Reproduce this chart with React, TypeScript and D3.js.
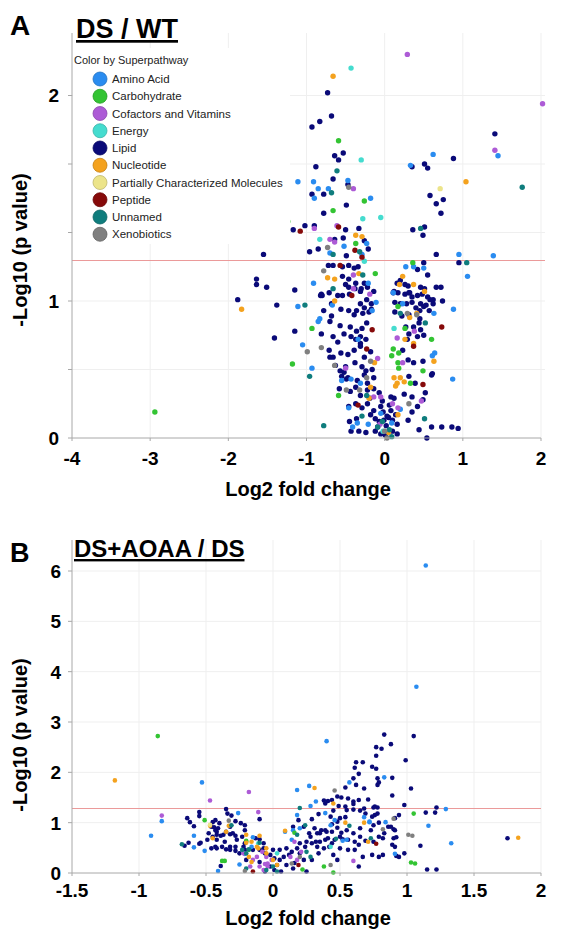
import * as d3 from 'd3';

type Pt = [number, number];

// superpathway categories and their colours
const CATEGORIES = ['Amino Acid', 'Carbohydrate', 'Cofactors and Vitamins', 'Energy', 'Lipid', 'Nucleotide', 'Partially Characterized Molecules', 'Peptide', 'Unnamed', 'Xenobiotics'];
const CATEGORY_COLORS = ['#2a8cf0', '#33c433', '#ad5bd6', '#45dccf', '#0a0a78', '#f4a21e', '#ece48a', '#860a0a', '#0f7d7d', '#808080'];
// lipid first, others drawn over it
const DRAW_ORDER = [4, 0, 1, 2, 3, 5, 6, 7, 8, 9];

// ---------- panel A : DS / WT  (log2 FC, -log10 p) ----------
const A_AMINO: Pt[] = [[1.45,2.06],[0.62,2.07],[0.33,1.99],[-1.11,1.87],[-0.91,1.87],[-0.47,1.88],[-0.85,1.82],[-0.90,1.75],[-0.72,1.82],[-0.18,1.75],[-0.70,1.35],[-0.52,1.40],[-0.29,1.34],[-0.23,1.42],[0.95,1.34],[1.39,1.33],[-1.11,0.96],[-1.05,0.68],[-0.93,0.51],[1.06,1.18],[0.88,0.94],[0.87,0.43],[-0.21,1.13],[-0.91,1.13],[0.27,1.25],[0.37,1.25],[0.50,1.24],[-0.11,0.99],[0.23,0.98],[-0.67,0.97],[-0.16,0.93],[-0.83,0.87],[-0.85,0.85],[-0.34,0.72],[-0.55,0.42],[-0.43,0.43],[-0.31,0.40],[-0.46,0.22],[-0.35,0.11],[-0.21,0.10],[-0.41,0.08],[0.11,1.06],[0.63,0.91],[0.61,0.60],[0.64,0.62],[-0.05,0.18],[0.20,0.21],[0.09,0.11]];
const A_CARB: Pt[] = [[-0.59,2.17],[-0.26,1.73],[-0.66,1.66],[-1.24,1.58],[-0.37,1.42],[0.36,1.28],[-0.12,1.20],[-1.18,0.54],[-2.94,0.19],[-0.93,0.80],[0.17,0.96],[0.26,0.80],[0.60,0.72],[0.11,0.65],[0.18,0.62],[0.17,0.55],[0.18,0.51],[0.49,0.49],[0.33,0.40],[-0.59,0.31],[0.09,0.60]];
const A_COFACTOR: Pt[] = [[0.29,2.80],[2.02,2.44],[1.41,2.10],[-0.40,1.82],[-0.90,1.53],[-0.61,1.55],[-0.70,1.45],[-0.64,1.43],[-0.40,1.19],[-0.40,1.09],[-0.19,1.05],[0.16,0.73],[0.38,0.78],[0.23,0.55],[-0.09,0.58],[-0.50,0.51],[-0.14,0.30],[-0.05,0.30],[0.47,0.27],[0.17,0.22],[0.10,0.25],[-0.06,0.10]];
const A_ENERGY: Pt[] = [[-0.43,2.70],[-0.30,2.03],[-0.28,1.60],[-0.05,1.61],[-0.83,1.45],[-0.26,1.29],[0.12,0.80],[-0.02,0.05]];
const A_LIPID: Pt[] = [
  [-0.73,2.52],[-0.68,2.35],[-0.83,2.31],[-0.93,2.27],[1.41,2.22],[-0.64,2.06],[-0.53,2.08],[-0.59,2.03],[0.88,2.04],[-0.88,1.98],
  [0.35,1.98],[0.51,2.00],[0.55,1.97],[-0.66,1.89],[-0.47,1.85],[-0.93,1.78],[-0.78,1.78],[0.58,1.77],[0.75,1.74],[0.66,1.71],
  [0.72,1.64],[-0.49,1.70],[-0.78,1.64],[-1.17,1.52],[-1.02,1.55],[-0.90,1.55],[-0.50,1.52],[-0.33,1.53],[0.36,1.52],[0.51,1.54],
  [0.49,1.48],[-0.64,1.45],[-0.53,1.46],[-0.96,1.36],[-0.85,1.38],[-0.49,1.33],[-0.26,1.44],[-0.21,1.38],[-1.55,1.34],[0.66,1.34],
  [0.95,1.28],[0.50,1.28],
  [-0.72,1.26],[-0.66,1.26],[-0.46,1.26],[-0.54,1.25],[-0.39,1.24],[-0.34,1.25],[-0.54,1.18],[-0.46,1.16],[-0.37,1.13],[-0.26,1.13],
  [-0.50,1.12],[-0.30,1.09],[-0.81,1.05],[-1.64,1.16],[-1.64,1.12],[-1.51,1.10],[-1.88,1.01],[-1.38,0.97],[-1.15,1.08],[-1.41,0.73],
  [-1.15,0.78],[-0.80,1.04],[-0.54,1.04],[-0.45,1.05],[-0.23,1.01],[-0.17,0.94],[-0.68,0.98],[-0.36,0.93],[-0.28,0.91],
  [0.42,1.23],[0.55,1.19],[0.20,1.15],[0.16,1.13],[0.26,1.12],[0.30,1.11],[0.46,1.10],[0.51,1.09],[0.11,1.06],[0.31,1.06],
  [0.26,1.05],[0.32,1.06],[0.42,1.04],[0.48,1.05],[0.55,1.03],[0.28,0.98],[0.35,0.99],[0.46,0.98],[0.53,0.97],[0.22,0.89],
  [0.45,0.87],[0.44,0.84],[0.72,1.10],[0.74,1.00],[0.66,1.10],[0.62,1.01],[0.73,0.08],[0.86,0.08],[0.60,0.08],[0.94,0.07],
  [0.54,0.00],[0.12,1.07],[0.17,1.06],[0.35,1.03],[0.58,1.01],[0.62,0.98],[0.13,0.99],[0.20,0.98],[0.13,0.92],[0.31,0.90],
  [0.40,0.95],[0.45,0.93],[0.50,0.96],[0.57,0.93],[0.27,0.81],[0.37,0.81],[0.46,0.79],[0.31,0.76],[0.29,0.72],[0.42,0.74],
  [0.50,0.75],[0.23,0.64],[0.30,0.57],[0.37,0.55],[0.49,0.56],[0.31,0.45],[0.39,0.40],[0.60,0.46],[0.61,0.47],[0.25,0.32],
  [0.35,0.30],[0.42,0.23],[0.30,0.13],[0.44,0.06],[0.35,0.19],[0.49,0.28],[0.52,0.33],
  [-0.82,1.04],[-0.71,1.06],[-0.60,1.04],[-0.46,1.10],[-0.38,1.09],[-0.31,1.07],[-0.22,1.10],[-0.14,1.07],
  [-0.78,0.93],[-0.68,0.89],[-0.56,0.94],[-0.46,0.93],[-0.39,0.90],[-0.31,0.98],[-0.26,0.95],[-0.20,0.92],[-0.17,0.98],
  [-0.70,0.85],[-0.57,0.82],[-0.44,0.81],[-0.36,0.78],[-0.29,0.80],[-0.23,0.84],
  [-0.81,0.76],[-0.66,0.74],[-0.52,0.76],[-0.43,0.74],[-0.37,0.72],[-0.31,0.74],[-0.24,0.72],[-0.31,0.69],
  [-0.70,0.59],[-0.60,0.70],[-0.71,0.64],[-0.66,0.59],[-0.56,0.62],[-0.47,0.61],[-0.39,0.64],[-0.31,0.67],[-0.26,0.59],[-0.18,0.63],
  [-0.63,0.53],[-0.50,0.52],[-0.38,0.55],[-0.29,0.52],[-0.24,0.49],[-0.16,0.50],[-0.57,0.49],[-0.52,0.48],[-0.49,0.43],
  [-0.55,0.45],[-0.47,0.44],[-0.35,0.42],[-0.26,0.46],[-0.22,0.40],[-0.14,0.44],
  [-0.58,0.36],[-0.44,0.34],[-0.37,0.37],[-0.31,0.31],[-0.22,0.35],[-0.14,0.36],[-0.07,0.33],
  [-0.46,0.23],[-0.37,0.25],[-0.29,0.22],[-0.22,0.25],[-0.14,0.20],[-0.05,0.23],
  [-0.36,0.14],[-0.18,0.17],[-0.12,0.14],[-0.07,0.12],[-0.01,0.13],[0.03,0.16],[-0.45,0.12],[-0.43,0.05],
  [-0.33,0.05],[-0.24,0.04],[-0.12,0.05],[-0.05,0.03],[0.01,0.02],[0.10,0.05],[0.16,0.03],
  [0.08,0.20],[0.14,0.17],[0.10,0.13],[0.16,0.10],[0.12,0.29],[0.08,0.30],
  [-0.03,0.27],[0.02,0.09],[-0.09,0.08],[0.06,0.24],[-0.19,0.29],[0.05,0.15],[-0.02,0.19]
];
const A_NUCLEO: Pt[] = [[-0.66,2.64],[1.04,1.87],[-0.37,1.48],[-0.29,1.47],[-0.33,1.20],[-0.73,1.17],[-0.64,1.16],[0.23,1.18],[0.19,1.12],[0.37,1.12],[0.51,1.07],[-1.83,0.94],[-0.64,1.00],[0.32,0.88],[0.41,0.91],[0.26,0.72],[0.37,0.69],[0.63,0.56],[0.12,0.44],[0.16,0.40],[0.20,0.44],[0.25,0.41],[0.14,0.38],[-0.13,0.55],[-0.18,0.37],[-0.20,0.29],[0.17,0.17],[0.05,0.04]];
const A_PARTIAL: Pt[] = [[0.71,1.82]];
const A_PEPTIDE: Pt[] = [[-1.08,1.51],[-0.59,1.54],[-0.38,1.37],[-0.29,1.32],[-0.57,1.26],[-0.42,1.04],[0.73,0.81],[-0.16,0.79],[-0.23,0.65],[0.37,0.67],[0.49,0.39],[-0.34,0.24]];
const A_UNNAMED: Pt[] = [[1.76,1.83],[-0.61,1.95],[-0.68,1.79],[0.46,1.53],[-0.66,1.34],[-0.32,1.36],[1.05,1.28],[-0.28,1.19],[-0.66,1.09],[-1.02,0.97],[-0.96,0.45],[-0.78,0.09],[0.20,0.91],[0.52,0.84],[0.51,0.14],[-0.23,0.31],[-0.29,0.16],[-0.09,0.08],[-0.03,0.12],[0.06,0.06],[0.09,0.01]];
const A_XENO: Pt[] = [[-0.46,1.83],[-0.73,1.39],[-0.78,1.22],[-0.99,0.63],[-0.81,0.66],[-0.64,0.53],[0.29,0.91],[0.41,0.90],[-0.18,0.56],[-0.23,0.44],[-0.49,0.35],[-0.32,0.35],[0.31,0.25],[0.00,0.05],[0.03,0.00]];
const A_SERIES = [A_AMINO, A_CARB, A_COFACTOR, A_ENERGY, A_LIPID, A_NUCLEO, A_PARTIAL, A_PEPTIDE, A_UNNAMED, A_XENO];

// ---------- panel B : DS+AOAA / DS ----------
const B_AMINO: Pt[] = [[1.14,6.11],[1.07,3.70],[0.40,2.62],[0.83,1.90],[-0.53,1.80],[0.18,1.65],[0.27,1.73],[0.57,1.80],[0.32,1.42],[0.28,1.33],[0.18,1.15],[0.68,1.11],[0.72,1.02],[1.16,0.94],[1.29,1.27],[1.33,0.59],[-0.83,1.03],[-0.91,0.74],[-0.26,1.19],[-0.59,0.74],[-0.59,0.51],[-0.51,0.44],[-0.21,0.38],[-0.25,0.17],[-0.16,0.52],[-0.15,0.71],[-0.41,0.04],[0.09,0.82],[0.15,0.85],[0.20,0.89],[0.14,0.66],[0.43,0.95],[0.46,1.05],[0.52,0.64],[0.55,0.66],[0.91,0.38],[0.39,1.19],[0.72,1.01],[0.84,1.01]];
const B_CARB: Pt[] = [[-0.86,2.72],[-0.51,1.05],[-0.38,0.24],[-0.36,0.24],[-0.20,0.64],[1.05,1.18],[1.03,0.21],[1.06,0.19],[0.16,0.80],[-0.20,0.62],[0.22,0.07],[0.38,0.13],[0.45,0.01],[-0.18,0.46]];
const B_COFACTOR: Pt[] = [[-0.18,1.61],[-0.47,1.44],[-0.83,1.14],[-0.11,1.21],[0.60,0.24],[-0.22,0.39],[-0.12,0.32],[-0.08,0.42],[-0.15,0.26],[-0.04,0.19],[-0.05,0.32],[-0.01,0.26],[-0.17,0.13],[-0.10,0.13],[-0.06,0.18],[-0.04,0.13],[-0.07,0.06],[0.16,0.62],[0.13,0.32],[0.21,0.42],[0.18,0.26]];
const B_ENERGY: Pt[] = [[-0.11,0.59],[0.03,0.39],[0.43,0.52]];
const B_LIPID: Pt[] = [
  [0.83,2.75],[1.05,2.72],[0.88,2.56],[0.77,2.50],[0.81,2.47],[0.77,2.33],[0.99,2.24],[0.62,2.20],[0.67,2.20],[0.61,2.09],
  [0.74,2.11],[0.77,2.07],[0.78,1.88],[0.89,1.89],[0.64,1.97],[0.60,1.88],[0.54,1.70],[0.62,1.75],[0.68,1.68],[0.78,1.75],
  [0.79,1.80],[1.03,1.68],[0.89,1.54],[0.51,1.50],[0.56,1.48],[0.60,1.42],[0.64,1.45],[0.71,1.46],[0.38,1.44],[0.41,1.43],
  [0.49,1.33],[0.55,1.25],[0.60,1.26],[0.65,1.24],[0.69,1.18],[0.75,1.30],[0.78,1.30],[0.34,1.17],[0.43,1.12],[0.45,1.24],
  [0.48,1.02],[0.50,1.09],[0.44,0.97],[0.54,1.11],[0.76,1.15],[0.78,1.18],[0.79,1.00],[0.88,0.92],[0.90,0.87],[1.14,1.20],
  [1.22,1.30],[1.21,1.20],[1.10,0.54],[0.92,0.71],[0.82,0.69],[0.89,0.56],[0.73,0.85],[0.75,0.95],[0.65,0.89],[0.60,0.79],
  [0.55,0.85],[0.51,0.80],[0.48,0.90],[0.44,0.82],[0.40,0.82],[0.36,0.85],[0.69,0.64],[0.65,0.72],[0.61,0.62],[0.56,0.66],
  [0.52,0.67],[0.50,0.72],[0.46,0.66],[0.82,0.36],[0.92,0.34],[0.98,0.39],[1.15,0.07],[1.22,0.07],[0.74,0.36],[0.79,0.32],
  [0.67,0.32],[0.64,0.13],[0.56,0.46],[0.61,0.46],[0.50,0.49],[0.45,0.36],[0.48,0.26],[1.75,0.69],[0.91,0.52],[0.94,0.32],
  [0.64,0.56],[0.75,0.62],[0.79,0.72],[0.83,0.79],[0.86,0.92],[0.90,0.69],[0.91,0.85],[0.76,1.32],[0.74,1.12],[0.68,1.28],
  [0.60,1.37],[0.54,1.32],[0.48,1.52],[0.44,1.45],[0.39,1.38],[0.29,1.07],[0.35,0.79],[0.39,0.85],[0.32,0.62],[0.19,1.05],
  [0.23,0.92],[0.27,0.79],[0.31,0.89],[0.15,0.92],[0.98,1.35],[0.94,1.15],[0.91,1.09],
  [-0.64,1.09],[-0.62,1.01],[-0.59,0.93],[-0.55,1.21],[-0.55,1.13],[-0.45,1.01],[-0.43,1.05],[-0.44,0.91],[-0.35,1.27],[-0.34,1.18],
  [-0.31,1.14],[-0.28,1.03],[-0.21,0.95],[-0.10,1.07],[-0.41,0.89],[-0.42,0.82],[-0.55,0.58],[-0.66,0.54],[-0.49,0.66],[-0.45,0.72],
  [-0.42,0.76],[-0.39,0.74],[-0.35,0.82],[-0.32,0.77],[-0.28,0.74],[-0.42,0.66],[-0.46,0.49],[-0.42,0.49],[-0.38,0.52],[-0.39,0.14],
  [-0.35,0.47],[-0.32,0.52],[-0.28,0.44],[-0.25,0.39],[-0.21,0.46],[-0.63,0.60],[-0.54,0.60],[-0.48,0.79],[-0.46,0.92],[-0.43,0.85],
  [-0.43,0.52],[-0.40,0.99],[-0.37,0.76],[-0.36,0.62],[-0.32,0.92],[-0.30,0.79],[-0.27,0.66],[-0.28,0.52],[-0.32,0.46],[-0.24,0.99],
  [-0.21,0.85],[-0.23,0.72],[-0.21,0.59],[-0.13,0.69],[-0.10,0.67],[-0.07,0.59],[-0.22,0.52],[-0.15,0.46],[-0.07,0.49],[-0.20,0.26],
  [-0.10,0.22],[-0.02,0.13],[0.01,0.06],[-0.06,0.03],[-0.10,0.46],[-0.06,0.39],[-0.02,0.36],[0.01,0.29],[0.00,0.46],
  [0.05,0.46],[0.10,0.49],[0.14,0.42],[0.18,0.49],[0.20,0.59],[0.24,0.52],[0.25,0.62],[0.28,0.72],[0.33,0.79],[0.05,0.26],
  [0.10,0.16],[0.15,0.09],[0.25,0.03],[0.06,0.03],[0.03,0.16],[0.08,0.32],[0.29,0.59],[0.33,0.52],[0.35,0.62],[0.39,0.66],
  [0.41,0.69],[0.29,0.26],[0.34,0.39],[0.38,0.49],[0.42,0.52],[0.44,0.59],[0.12,0.36],[0.20,0.39],[0.23,0.26],[0.16,0.20]
];
const B_NUCLEO: Pt[] = [[-1.18,1.84],[1.83,0.70],[0.31,1.69],[0.45,1.38],[0.54,1.00],[-0.45,0.69],[-0.33,0.94],[-0.10,0.74],[-0.35,0.82],[-0.47,0.94],[-0.20,0.60],[-0.18,0.32],[-0.05,0.39],[-0.12,0.52],[-0.16,0.22],[-0.20,0.76],[-0.16,0.62],[-0.05,0.49],[0.00,0.26],[0.03,0.16],[-0.11,0.49],[0.09,0.84],[0.68,1.00],[0.71,0.62]];
const B_PARTIAL: Pt[] = [[-0.47,0.96]];
const B_PEPTIDE: Pt[] = [[0.77,0.58],[-0.15,0.03],[0.19,0.16]];
const B_UNNAMED: Pt[] = [[-0.68,0.57],[-0.31,0.95],[0.20,1.29],[0.73,0.69],[-0.18,0.47],[-0.10,0.60],[0.18,0.76],[0.24,0.95],[0.28,0.32],[0.25,0.42],[-0.23,0.46],[-0.20,0.39],[0.00,0.13],[-0.05,0.06],[0.03,0.03],[-0.20,0.09],[0.57,0.94],[0.47,0.68]];
const B_XENO: Pt[] = [[-0.33,1.04],[0.46,1.64],[0.90,1.08],[1.01,0.76],[1.04,0.74],[0.82,0.87],[-0.21,0.04],[0.14,0.19],[0.20,0.32],[0.43,0.16]];
const B_SERIES = [B_AMINO, B_CARB, B_COFACTOR, B_ENERGY, B_LIPID, B_NUCLEO, B_PARTIAL, B_PEPTIDE, B_UNNAMED, B_XENO];

// axes
const A_X_TICKS = [-4, -3, -2, -1, 0, 1, 2];
const A_Y_TICK_MARKS = [0, 0.5, 1, 1.5, 2, 2.5];
const A_Y_LABELS: [string, number][] = [['0', 0], ['1', 1], ['2', 2.5]];
const B_X_TICKS = [-1.5, -1, -0.5, 0, 0.5, 1, 1.5, 2];
const B_Y_TICKS = [0, 1, 2, 3, 4, 5, 6];
const P_THRESHOLD = 1.301; // p = 0.05

const FONT = '"Liberation Sans", Arial, sans-serif';
const GRID = '#efefef';
const AXIS = '#a8a8a8';
const THRESHOLD_COLOR = '#eb9a9a';

const Panel = ({ series, x, y, top, right, radius, vGrid, hGrid, xTicks, xLabels, yTicks, yLabels, xLabelY, yLabelX }) => {
  const left = x.range()[0];
  const bottom = y(0);
  const fmt = (v: number) => (v < 0 ? '-' + Math.abs(v) : String(v));
  const thr = Math.round(y(P_THRESHOLD)) + 0.5;
  return (
    <g>
      {vGrid.map((v) => <line key={'vg' + v} x1={x(v)} x2={x(v)} y1={top} y2={bottom} stroke={GRID} />)}
      {hGrid.map((v) => <line key={'hg' + v} x1={left} x2={right} y1={y(v)} y2={y(v)} stroke={GRID} />)}
      <line x1={left} x2={right} y1={thr} y2={thr} stroke={THRESHOLD_COLOR} strokeWidth={1} />
      {DRAW_ORDER.map((ci) =>
        series[ci].map((d, i) => (
          <circle key={ci + '-' + i} cx={x(d[0])} cy={y(d[1])} r={radius} fill={CATEGORY_COLORS[ci]} />
        ))
      )}
      <line x1={left} x2={left} y1={top} y2={bottom} stroke={AXIS} />
      <line x1={left} x2={x.range()[1]} y1={bottom} y2={bottom} stroke={AXIS} />
      {xTicks.map((v) => <line key={'xt' + v} x1={x(v)} x2={x(v)} y1={bottom} y2={bottom + 3} stroke={AXIS} />)}
      {yTicks.map((v) => <line key={'yt' + v} x1={left - 4} x2={left} y1={y(v)} y2={y(v)} stroke={AXIS} />)}
      {xLabels.map((v) => (
        <text key={'xl' + v} x={x(v)} y={xLabelY} textAnchor="middle" fontSize={19} fontWeight="bold" fontFamily={FONT}>{fmt(v)}</text>
      ))}
      {yLabels.map(([t, v]) => (
        <text key={'yl' + t} x={yLabelX} y={y(v)} dy="0.36em" textAnchor="end" fontSize={19} fontWeight="bold" fontFamily={FONT}>{t}</text>
      ))}
    </g>
  );
};

const App = () => {
  const xA = d3.scaleLinear().domain([-4, 2]).range([72, 541]);
  const yA = d3.scaleLinear().domain([0, 1]).range([438, 301]);
  const xB = d3.scaleLinear().domain([-1.5, 2]).range([72, 541]);
  const yB = d3.scaleLinear().domain([0, 6]).range([873, 571]);

  return (
    <svg width={563} height={931} style={{ position: 'absolute', left: 0, top: 0, background: '#fff' }}>
      <rect width={563} height={931} fill="#fff" />

      {/* panel A */}
      <Panel series={A_SERIES} x={xA} y={yA} top={33} right={545} radius={2.7}
        vGrid={A_X_TICKS.slice(1)} hGrid={A_Y_TICK_MARKS.slice(1)}
        xTicks={A_X_TICKS} xLabels={A_X_TICKS} yTicks={A_Y_TICK_MARKS} yLabels={A_Y_LABELS}
        xLabelY={465} yLabelX={59} />

      {/* legend */}
      <rect x={73} y={48} width={217} height={196} fill="#fff" />
      <text x={74} y={64} fontSize={11} fontFamily={FONT} fill="#222">Color by Superpathway</text>
      {CATEGORIES.map((c, i) => (
        <g key={c}>
          <circle cx={100} cy={79 + i * 17.25} r={7} fill={CATEGORY_COLORS[i]} stroke={d3.color(CATEGORY_COLORS[i]).darker(0.6).toString()} strokeWidth={0.8} />
          <text x={112} y={79 + i * 17.25 + 4} fontSize={11.5} fontFamily={FONT} fill="#222">{c}</text>
        </g>
      ))}

      <text x={10} y={35} fontSize={28} fontWeight="bold" fontFamily={FONT}>A</text>
      <text x={76} y={38} fontSize={27} fontWeight="bold" fontFamily={FONT} textDecoration="underline">DS / WT</text>
      <text transform="translate(27,250) rotate(-90)" textAnchor="middle" fontSize={20} fontWeight="bold" fontFamily={FONT}>-Log10 (p value)</text>
      <text x={308} y={496} textAnchor="middle" fontSize={20} fontWeight="bold" fontFamily={FONT}>Log2 fold change</text>

      {/* panel B */}
      <Panel series={B_SERIES} x={xB} y={yB} top={540} right={541} radius={2.3}
        vGrid={B_X_TICKS.slice(1)} hGrid={B_Y_TICKS.slice(1)}
        xTicks={B_X_TICKS} xLabels={B_X_TICKS} yTicks={B_Y_TICKS} yLabels={B_Y_TICKS.map((v) => [String(v), v])}
        xLabelY={897} yLabelX={61} />

      <text x={10} y={562} fontSize={27} fontWeight="bold" fontFamily={FONT}>B</text>
      <text x={74} y={557} fontSize={24} fontWeight="bold" fontFamily={FONT} textDecoration="underline">DS+AOAA / DS</text>
      <text transform="translate(27,735) rotate(-90)" textAnchor="middle" fontSize={20} fontWeight="bold" fontFamily={FONT}>-Log10 (p value)</text>
      <text x={308} y={925} textAnchor="middle" fontSize={20} fontWeight="bold" fontFamily={FONT}>Log2 fold change</text>
    </svg>
  );
};

export default App;
